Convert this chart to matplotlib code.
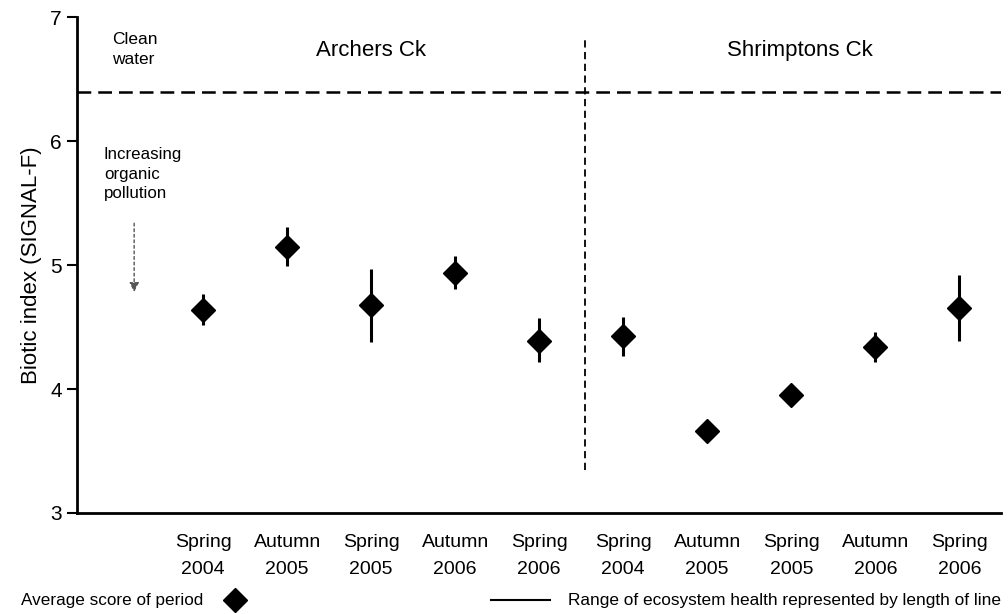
import numpy as np
import matplotlib.pyplot as plt

plt.rcParams['font.family'] = ['Liberation Sans', 'DejaVu Sans']

# periods sampled at each creek
periods = ['Spring\n2004', 'Autumn\n2005', 'Spring\n2005', 'Autumn\n2006', 'Spring\n2006']
creeks = ['Archers Ck', 'Shrimptons Ck']

# average SIGNAL-F score and range of each period
archers_mean = [4.64, 5.15, 4.68, 4.94, 4.39]
archers_low = [4.52, 4.99, 4.38, 4.81, 4.22]
archers_high = [4.77, 5.31, 4.97, 5.07, 4.57]

shrimptons_mean = [4.43, 3.66, 3.95, 4.34, 4.65]
shrimptons_low = [4.27, 3.66, 3.95, 4.22, 4.39]
shrimptons_high = [4.58, 3.66, 3.95, 4.46, 4.92]

clean_water = 6.4

fig = plt.figure(figsize=(10.08, 6.14), dpi=100)
ax = fig.add_axes([0.0764, 0.1645, 0.917, 0.8075])

means = archers_mean + shrimptons_mean
lows = archers_low + shrimptons_low
highs = archers_high + shrimptons_high
x = np.arange(2, 2 + len(means))

ax.vlines(x, lows, highs, color='black', lw=2.2)
ax.plot(x, means, 'D', color='black', ms=12, mec='black')

ax.axhline(clean_water, color='black', lw=1.8, ls=(0, (5.5, 2.8)))
ax.plot([6.55, 6.55], [3.35, 6.83], color='black', lw=1.3, ls=(0, (4, 2.5)))

ax.set_xlim(0.5, 11.5)
ax.set_ylim(3, 7)
ax.set_yticks([3, 4, 5, 6, 7])
ax.set_xticks(x)
ax.set_xticklabels(periods * 2, fontsize=14, linespacing=1.75)
ax.tick_params(axis='x', length=0, pad=15)
ax.tick_params(axis='y', labelsize=15, length=7, width=1.5, direction='out', pad=4)
ax.set_ylabel('Biotic index (SIGNAL-F)', fontsize=16, labelpad=6)

for s in ['top', 'right']:
    ax.spines[s].set_visible(False)
for s in ['left', 'bottom']:
    ax.spines[s].set_linewidth(2)

ax.text(0.92, 6.74, 'Clean\nwater', fontsize=12.5, ha='left', va='center', linespacing=1.4)
ax.text(4, 6.73, creeks[0], fontsize=16, ha='center', va='center')
ax.text(9.1, 6.73, creeks[1], fontsize=16, ha='center', va='center')
ax.text(0.82, 5.95, 'Increasing\norganic\npollution', fontsize=12.2, ha='left', va='top', linespacing=1.35)
ax.annotate('', xy=(1.18, 4.76), xytext=(1.18, 5.36),
            arrowprops=dict(arrowstyle='-|>', color='#555555', lw=1, ls=(0, (2, 2)),
                            mutation_scale=14))

# legend line along the bottom
fig.text(0.021, 0.022, 'Average score of period', fontsize=12.3, va='center', ha='left')
fig.lines.append(plt.Line2D([0.2335], [0.022], marker='D', color='black', ms=12,
                            transform=fig.transFigure, figure=fig))
fig.lines.append(plt.Line2D([0.487, 0.546], [0.023, 0.023], color='black', lw=1.5,
                            transform=fig.transFigure, figure=fig))
fig.text(0.563, 0.022, 'Range of ecosystem health represented by length of line',
         fontsize=12.4, va='center', ha='left')

fig.savefig('out.png', dpi=100)
